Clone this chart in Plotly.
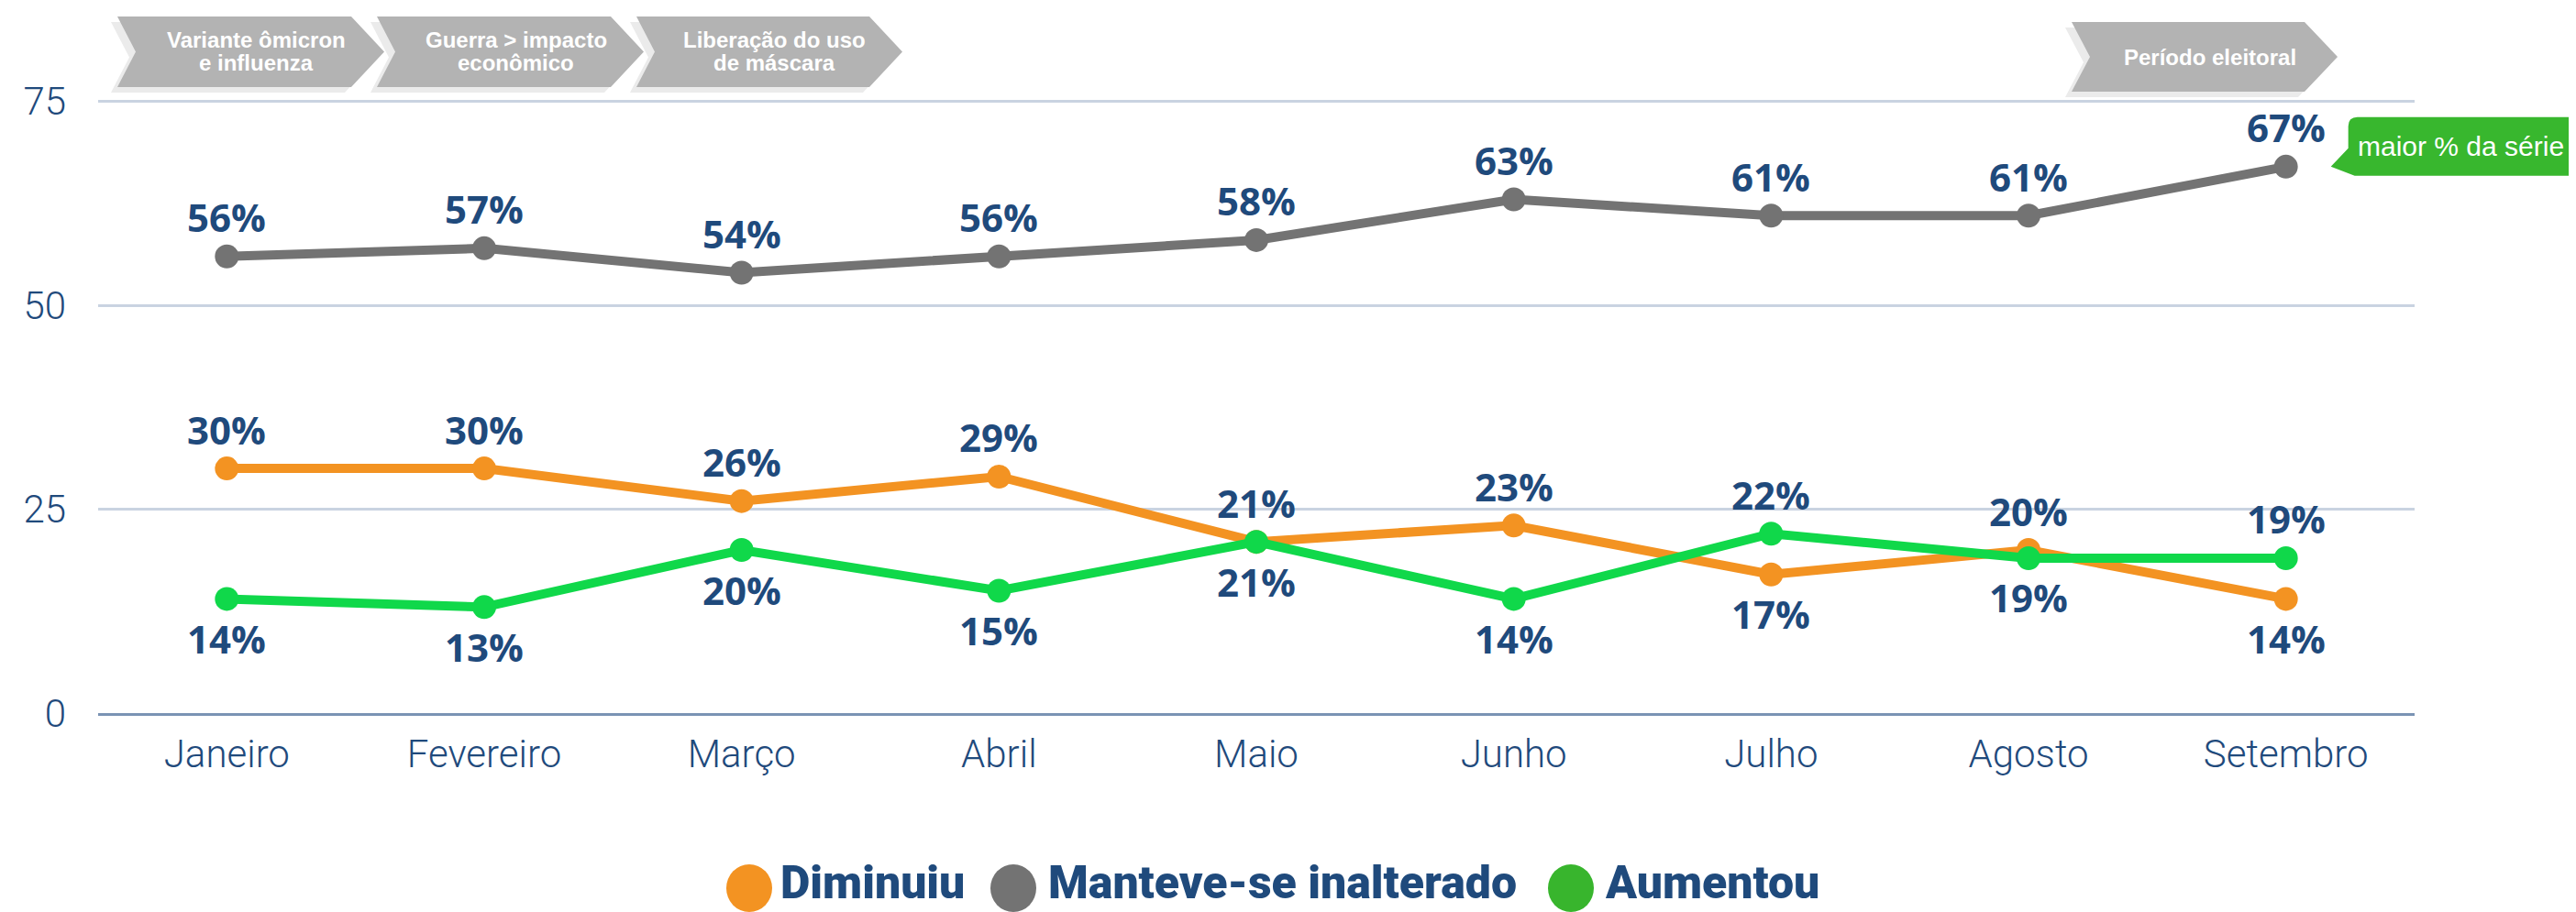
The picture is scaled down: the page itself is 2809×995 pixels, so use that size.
import plotly.graph_objects as go

months = ["Janeiro", "Fevereiro", "Março", "Abril", "Maio", "Junho", "Julho", "Agosto", "Setembro"]
diminuiu = [30, 30, 26, 29, 21, 23, 17, 20, 14]
manteve = [56, 57, 54, 56, 58, 63, 61, 61, 67]
aumentou = [14, 13, 20, 15, 21, 14, 22, 19, 19]
series_names = ["Diminuiu", "Manteve-se inalterado", "Aumentou"]
line_colors = ["#F39322", "#737373", "#10D84A"]
legend_colors = ["#F39322", "#737373", "#38B52D"]
label_pos = [
    ["above"] * 6 + ["below", "above", "below"],
    ["above"] * 9,
    ["below"] * 6 + ["above", "below", "above"],
]
y_ticks = [0, 25, 50, 75]
banners = [
    (["Variante ômicron", "e influenza"], 128, 383, 18, 95),
    (["Guerra &gt; impacto", "econômico"], 411, 666, 18, 95),
    (["Liberação do uso", "de máscara"], 694, 948, 18, 95),
    (["Período eleitoral"], 2259, 2513, 24, 100),
]
callout_text = "maior % da série"

# page body margin of the browser (default 8px) is compensated
OFF = 8
W, H = 2809 - OFF, 995 - OFF
# plot area in page pixels
PL, PR, PT, PB = 107, 2633, 108, 778
L, R, T, B = PL - OFF, PR - OFF, PT - OFF, PB - OFF
YMAX = 75.3
LABEL_COLOR = "#1F4A7C"


def fx(p):
    return (p - PL) / (PR - PL)


def fy(p):
    return (PB - p) / (PB - PT)


fig = go.Figure()
all_series = [diminuiu, manteve, aumentou]
for name, vals, col in zip(series_names, all_series, line_colors):
    fig.add_trace(go.Scatter(
        x=months, y=vals, name=name, mode="lines+markers",
        line=dict(color=col, width=10),
        marker=dict(color=col, size=26),
        cliponaxis=False, showlegend=False,
    ))

annotations = []
for vals, poss in zip(all_series, label_pos):
    for m, v, p in zip(months, vals, poss):
        annotations.append(dict(
            x=m, y=v, xref="x", yref="y", text=f"{v}%", showarrow=False,
            yshift=43 if p == "above" else -43,
            font=dict(family="Open Sans", size=42, color=LABEL_COLOR, weight=700),
        ))

shapes = []
# banners
LINE_H = 25
for lines, x0, x1, y0, y1 in banners:
    ym = (y0 + y1) / 2
    notch = 20
    tip = 36
    for dx, dy, col in [(-7, 6, "#EBEBEB"), (0, 0, "#B3B3B3")]:
        pts = [(x0 + dx, y0 + dy), (x1 + dx, y0 + dy), (x1 + tip + dx, ym + dy),
               (x1 + dx, y1 + dy), (x0 + dx, y1 + dy), (x0 + notch + dx, ym + dy)]
        path = "M " + " L ".join(f"{fx(a):.5f},{fy(b):.5f}" for a, b in pts) + " Z"
        shapes.append(dict(type="path", xref="paper", yref="paper", path=path,
                           fillcolor=col, line=dict(width=0), layer="below"))
    n = len(lines)
    for i, line in enumerate(lines):
        cy = ym + (i - (n - 1) / 2) * LINE_H
        annotations.append(dict(
            x=fx((x0 + notch + x1 + tip) / 2 - 4), y=fy(cy), xref="paper", yref="paper",
            text=line, showarrow=False, xanchor="center", yanchor="middle",
            font=dict(family="Liberation Sans", size=24, color="white", weight=700),
        ))

# callout near max value
idx = len(months) - 1
xa = (idx + 0.5) / len(months)
ya = manteve[idx] / YMAX
callout_path = ("M 78,54 L 309,54 Q 319,54 319,44 L 319,0 Q 319,-10 309,-10 "
                "L 75,-10 L 49,0 L 68,20 L 68,44 Q 68,54 78,54 Z")
shapes.append(dict(type="path", xref="paper", yref="paper", xsizemode="pixel",
                   ysizemode="pixel", xanchor=xa, yanchor=ya, path=callout_path,
                   fillcolor="#38B72E", line=dict(width=0)))
annotations.append(dict(
    x=months[idx], y=manteve[idx], xref="x", yref="y", text=callout_text,
    showarrow=False, xshift=191, yshift=22,
    font=dict(family="Liberation Sans", size=30, color="white"),
))

# custom legend
legend_items = [(817, 849), (1105, 1141), (1713, 1748)]
ly = 969
for (cx, tx), name, col in zip(legend_items, series_names, legend_colors):
    shapes.append(dict(type="circle", xref="paper", yref="paper",
                       x0=fx(cx - 25), x1=fx(cx + 25), y0=fy(ly + 26), y1=fy(ly - 26),
                       fillcolor=col, line=dict(width=0)))
    annotations.append(dict(
        x=fx(tx), y=fy(ly - 6), xref="paper", yref="paper", text=name, showarrow=False,
        xanchor="left", yanchor="middle",
        font=dict(family="Roboto", size=50, color=LABEL_COLOR, weight=900),
    ))

fig.update_layout(
    width=W, height=H,
    margin=dict(l=L, r=W - R, t=T, b=H - B),
    paper_bgcolor="white", plot_bgcolor="white",
    showlegend=False,
    shapes=shapes, annotations=annotations,
    xaxis=dict(
        type="category", range=[-0.5, len(months) - 0.5],
        showgrid=False, zeroline=False,
        showline=True, linecolor="#7A93B4", linewidth=3,
        ticks="", ticklabelstandoff=6,
        tickfont=dict(family="Roboto", size=42, color=LABEL_COLOR, weight=300),
    ),
    yaxis=dict(
        range=[0, YMAX], tickvals=y_ticks, showgrid=True, gridcolor="#C9D3E1",
        gridwidth=3, zeroline=False, showline=False, ticks="",
        ticklabelstandoff=34,
        tickfont=dict(family="Roboto", size=42, color=LABEL_COLOR, weight=300),
    ),
)

fig.write_html("out.html")
